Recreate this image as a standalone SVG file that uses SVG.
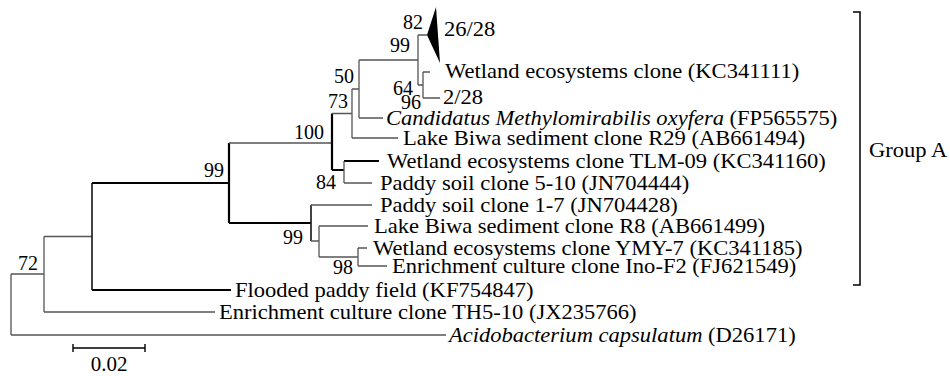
<svg xmlns="http://www.w3.org/2000/svg" width="950" height="376" viewBox="0 0 950 376">
<style>
text{font-family:"Liberation Serif","Times New Roman",serif;font-size:20.5px;fill:#000}
.lb{font-size:20px;text-anchor:end}
.i{font-style:italic}
.t{stroke:#555;stroke-width:1.3;fill:none}
.k{stroke:#000;stroke-width:2.2;fill:none}
.m{stroke:#222;stroke-width:1.7;fill:none}
</style>
<rect width="950" height="376" fill="#fff"/>
<g id="connectors">
<path class="t" d="M11,274V335M11,274H44M11,335H446"/>
<path class="t" d="M44,236.5V312M44,236.5H92M44,312H215"/>
<path class="m" d="M92,183V290"/>
<path class="k" d="M92,290H231M92,183H229M229,143V223M229,223H311"/>
<path class="t" d="M229,143H332"/>
<path class="k" d="M332,113.5V170M332,170H344M344,161H379"/>
<path class="t" d="M344,161V183M344,183H372"/>
<path class="t" d="M332,113.5H352M352,89V138M352,138H398M352,89H359M359,60V118M359,118H383M359,60H418"/>
<path class="t" d="M418,35V85M418,35H427M418,85H423M423,72V98M423,72H430M423,98H440"/>
<path class="m" d="M311,205V241"/>
<path class="t" d="M311,205H372M311,241H319M319,226V257M319,226H368M319,257H358M358,248V266M358,248H367M358,266H387"/>
</g>
<g id="clade-26-28"><polygon points="427,35 436,7 440,63" fill="#000"/><text transform="translate(444 36) scale(1.1 1)">26/28</text></g>
<g id="leaf-KC341111"><text transform="translate(445 78) scale(1.1 1)">Wetland ecosystems clone (KC341111)</text></g>
<g id="clade-2-28"><text transform="translate(443 104) scale(1.1 1)">2/28</text></g>
<g id="leaf-FP565575"><text transform="translate(386 124.5) scale(1.1 1)"><tspan class="i">Candidatus Methylomirabilis oxyfera</tspan> (FP565575)</text></g>
<g id="leaf-AB661494"><text transform="translate(403 144.5) scale(1.1 1)">Lake Biwa sediment clone R29 (AB661494)</text></g>
<g id="leaf-KC341160"><text transform="translate(387 167.5) scale(1.1 1)">Wetland ecosystems clone TLM-09 (KC341160)</text></g>
<g id="leaf-JN704444"><text transform="translate(380 189.5) scale(1.1 1)">Paddy soil clone 5-10 (JN704444)</text></g>
<g id="leaf-JN704428"><text transform="translate(380 211.5) scale(1.1 1)">Paddy soil clone 1-7 (JN704428)</text></g>
<g id="leaf-AB661499"><text transform="translate(374 232.5) scale(1.1 1)">Lake Biwa sediment clone R8 (AB661499)</text></g>
<g id="leaf-KC341185"><text transform="translate(373 254.5) scale(1.1 1)">Wetland ecosystems clone YMY-7 (KC341185)</text></g>
<g id="leaf-FJ621549"><text transform="translate(392 273) scale(1.1 1)">Enrichment culture clone Ino-F2 (FJ621549)</text></g>
<g id="leaf-KF754847"><text transform="translate(235 296.5) scale(1.1 1)">Flooded paddy field (KF754847)</text></g>
<g id="leaf-JX235766"><text transform="translate(219 318.5) scale(1.1 1)">Enrichment culture clone TH5-10 (JX235766)</text></g>
<g id="leaf-D26171"><text transform="translate(449 341.5) scale(1.1 1)"><tspan class="i">Acidobacterium capsulatum</tspan> (D26171)</text></g>
<g id="bootstrap">
<text class="lb" x="423" y="29">82</text>
<text class="lb" x="410" y="52">99</text>
<text class="lb" x="413" y="95">64</text>
<text class="lb" x="421" y="109">96</text>
<text class="lb" x="354" y="83">50</text>
<text class="lb" x="348" y="108">73</text>
<text class="lb" x="324" y="139">100</text>
<text class="lb" x="336" y="189">84</text>
<text class="lb" x="224" y="177">99</text>
<text class="lb" x="303" y="244">99</text>
<text class="lb" x="353" y="274">98</text>
<text class="lb" x="38" y="270">72</text>
</g>
<g id="group-a"><path d="M853,12H860V285H853" stroke="#000" stroke-width="1.5" fill="none"/><text transform="translate(869 157) scale(1.1 1)">Group A</text></g>
<g id="scale-bar"><path d="M73,348H145M73,344V352M145,344V352" stroke="#000" stroke-width="1.4" fill="none"/><text x="109" y="371" text-anchor="middle" style="font-size:21px">0.02</text></g>
</svg>
